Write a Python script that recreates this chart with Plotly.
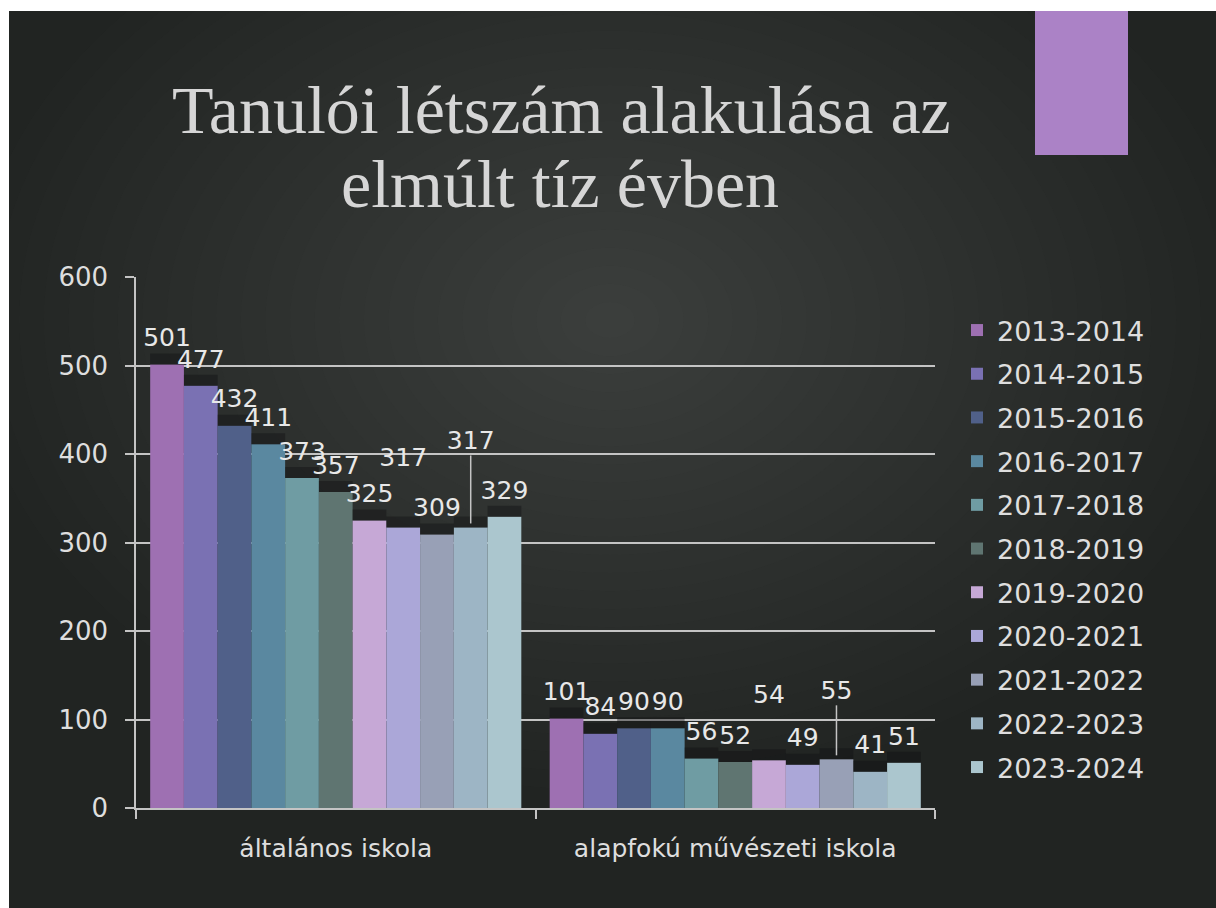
import plotly.graph_objects as go

# ---------------- data ----------------
categories = ["általános iskola", "alapfokú művészeti iskola"]
years = ["2013-2014", "2014-2015", "2015-2016", "2016-2017", "2017-2018", "2018-2019",
         "2019-2020", "2020-2021", "2021-2022", "2022-2023", "2023-2024"]
altalanos = [501, 477, 432, 411, 373, 357, 325, 317, 309, 317, 329]
muveszeti = [101, 84, 90, 90, 56, 52, 54, 49, 55, 41, 51]
colors = ["#9e70b2", "#7a71b3", "#506089", "#5a88a0", "#6f9ca3", "#5f7571",
          "#c6a8d6", "#aba7d8", "#98a0b6", "#9db5c5", "#abc6ce"]
y_ticks = [0, 100, 200, 300, 400, 500, 600]
title_lines = ["Tanulói létszám alakulása az", "elmúlt tíz évben"]

# ---------------- layout geometry (pixels) ----------------
W, H = 1216, 908
ML, MR, MT, MB = 136, 281, 277, 100
PW, PH = W - ML - MR, H - MT - MB
YMAX = 600
PPU = PH / YMAX  # pixels per unit


def px_x(px):
    return (px - ML) / PW


def px_y(py):
    return (H - MB - py) / PH


# label lift above bar top (px); special labels moved up in the original
DEFAULT_LIFT = 12
label_lift_px = {(7, 0): 55, (9, 0): 72, (6, 1): 51, (8, 1): 54}
leader_labels = {(9, 0), (8, 1)}
STRIP_PX = 11

SANS = "DejaVu Sans"
TXT = "#dedede"
GRID = "#c4c4c4"

fig = go.Figure()

for i, yr in enumerate(years):
    vals = [altalanos[i], muveszeti[i]]
    fig.add_trace(go.Bar(
        x=categories, y=vals, name=yr, marker=dict(color=colors[i], line=dict(width=0)),
        offsetgroup=str(i), legendgroup=yr, hoverinfo="name+y"))

for i, yr in enumerate(years):
    vals = [altalanos[i], muveszeti[i]]
    fig.add_trace(go.Bar(
        x=categories, y=[STRIP_PX / PPU] * len(vals), base=vals,
        marker=dict(color="rgba(16,16,18,0.4)", line=dict(width=0)),
        offsetgroup=str(i), showlegend=False, hoverinfo="skip"))

for i, yr in enumerate(years):
    vals = [altalanos[i], muveszeti[i]]
    lifts = [label_lift_px.get((i, j), DEFAULT_LIFT) for j in range(len(vals))]
    anchor = [v + l / PPU for v, l in zip(vals, lifts)]
    minus = [(l - 4) / PPU if (i, j) in leader_labels else 0 for j, l in enumerate(lifts)]
    fig.add_trace(go.Scatter(
        x=categories, y=anchor, mode="text", text=[str(v) for v in vals],
        textposition="top center", textfont=dict(family=SANS, size=25, color="#e8e8e8"),
        offsetgroup=str(i), showlegend=False, hoverinfo="skip", cliponaxis=False,
        error_y=dict(type="data", symmetric=False, array=[0] * len(vals), arrayminus=minus,
                     color=GRID, thickness=1.5, width=0)))

# ---------------- background shapes ----------------
shapes = [
    dict(type="rect", xref="paper", yref="paper", x0=px_x(9), x1=px_x(W + 5),
         y0=px_y(H + 5), y1=px_y(11), fillcolor="#212422", line=dict(width=0), layer="below"),
]
NG = 26
cx, cy = 610, 320
for k in range(NG):
    f = 1 - k / NG
    rx, ry = 640 * f, 470 * f
    shapes.append(dict(type="circle", xref="paper", yref="paper",
                       x0=px_x(cx - rx), x1=px_x(cx + rx), y0=px_y(cy + ry), y1=px_y(cy - ry),
                       fillcolor="#53535f", opacity=0.033, line=dict(width=0), layer="below"))
# white page border (top and left), drawn over the glow
shapes.append(dict(type="rect", xref="paper", yref="paper", x0=px_x(-5), x1=px_x(W + 5),
                   y0=px_y(11), y1=px_y(-5), fillcolor="#ffffff", line=dict(width=0),
                   layer="below"))
shapes.append(dict(type="rect", xref="paper", yref="paper", x0=px_x(-5), x1=px_x(9),
                   y0=px_y(H + 5), y1=px_y(-5), fillcolor="#ffffff", line=dict(width=0),
                   layer="below"))
shapes.append(dict(type="rect", xref="paper", yref="paper", x0=px_x(1035), x1=px_x(1128),
                   y0=px_y(155), y1=px_y(11), fillcolor="#ab82c6", line=dict(width=0),
                   layer="below"))

annotations = [
    dict(text=title_lines[0], xref="paper", yref="paper", x=px_x(561), y=px_y(110),
         xanchor="center", yanchor="middle", showarrow=False,
         font=dict(family="Liberation Serif", size=68, color="#d6d6d6")),
    dict(text=title_lines[1], xref="paper", yref="paper", x=px_x(560), y=px_y(184),
         xanchor="center", yanchor="middle", showarrow=False,
         font=dict(family="Liberation Serif", size=68, color="#d6d6d6")),
]

fig.update_layout(
    width=W, height=H,
    margin=dict(l=ML, r=MR, t=MT, b=MB, autoexpand=False),
    paper_bgcolor="#ffffff", plot_bgcolor="rgba(0,0,0,0)",
    barmode="group", bargap=0.071, bargroupgap=0, scattermode="group",
    shapes=shapes, annotations=annotations,
    showlegend=True,
    legend=dict(x=px_x(957), y=px_y(306), xanchor="left", yanchor="top",
                font=dict(family=SANS, size=27, color=TXT), bgcolor="rgba(0,0,0,0)",
                tracegroupgap=5.6, itemclick=False, itemdoubleclick=False),
    xaxis=dict(type="category", tickson="boundaries", ticks="outside", ticklen=9,
               tickcolor=GRID, tickwidth=1.5, showline=True, linecolor=GRID, linewidth=2,
               showgrid=False, tickfont=dict(family=SANS, size=25, color=TXT),
               ticklabelstandoff=17, fixedrange=True),
    yaxis=dict(range=[0, YMAX], tickvals=y_ticks, ticks="outside", ticklen=9,
               tickcolor=GRID, tickwidth=1.5, showline=True, linecolor=GRID, linewidth=1.5,
               showgrid=True, gridcolor=GRID, gridwidth=1.5, zeroline=False,
               tickfont=dict(family=SANS, size=26, color=TXT), ticklabelstandoff=12,
               fixedrange=True),
    hovermode=False,
)

fig.write_html("out.html", config={"displayModeBar": False},
               post_script="document.body.style.margin='0';document.body.style.overflow='hidden';")
